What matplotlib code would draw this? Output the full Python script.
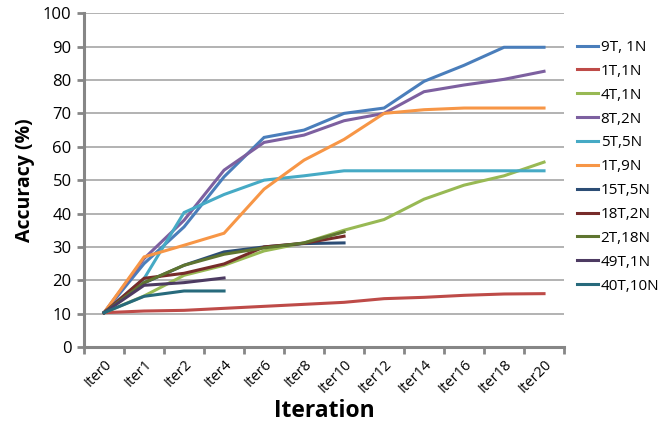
import numpy as np
import matplotlib
matplotlib.use('Agg')
import matplotlib.pyplot as plt

plt.rcParams['font.family'] = ['Open Sans', 'DejaVu Sans']

# Datos
iteraciones = ['Iter0', 'Iter1', 'Iter2', 'Iter4', 'Iter6', 'Iter8',
               'Iter10', 'Iter12', 'Iter14', 'Iter16', 'Iter18', 'Iter20']

s_9T_1N = [10.3, 25, 36, 51, 62.8, 65, 70, 71.6, 79.6, 84.4, 89.8, 89.8]
s_1T_1N = [10.3, 10.8, 11, 11.6, 12.2, 12.8, 13.4, 14.5, 14.9, 15.5, 15.9, 16]
s_4T_1N = [10.3, 15.3, 21.5, 24.5, 28.8, 31.2, 35, 38.2, 44.3, 48.5, 51.3, 55.4]
s_8T_2N = [10.3, 26.5, 38, 53, 61.3, 63.5, 67.8, 70, 76.5, 78.5, 80.2, 82.6]
s_5T_5N = [10.3, 20.5, 40.3, 45.7, 50, 51.3, 52.8, 52.8, 52.8, 52.8, 52.8, 52.8]
s_1T_9N = [10.3, 27, 30.5, 34.1, 47.3, 56, 62.2, 70, 71.1, 71.6, 71.6, 71.6]
s_15T_5N = [10.3, 19.2, 24.5, 28.5, 30, 31, 31.2]
s_18T_2N = [10.3, 20.6, 22.1, 24.9, 30, 31.1, 33.2]
s_2T_18N = [10.3, 19.3, 24.5, 27.8, 29.7, 31.2, 34.5]
s_49T_1N = [10.3, 18.5, 19.3, 20.7]
s_40T_10N = [10.3, 15.2, 16.8, 16.8]

series = [
    ('9T, 1N', s_9T_1N, '#4A7EBB'),
    ('1T,1N', s_1T_1N, '#BE4B48'),
    ('4T,1N', s_4T_1N, '#98B954'),
    ('8T,2N', s_8T_2N, '#7D60A0'),
    ('5T,5N', s_5T_5N, '#46AAC5'),
    ('1T,9N', s_1T_9N, '#F79646'),
    ('15T,5N', s_15T_5N, '#2C4D75'),
    ('18T,2N', s_18T_2N, '#772C2A'),
    ('2T,18N', s_2T_18N, '#5F7530'),
    ('49T,1N', s_49T_1N, '#4D3B62'),
    ('40T,10N', s_40T_10N, '#276A7C'),
]

fig = plt.figure(figsize=(6.62, 4.41), dpi=100)
ax = fig.add_axes([0.127, 0.213, 0.725, 0.757])

for nombre, valores, color in series:
    ax.plot(np.arange(len(valores)), valores, color=color, lw=2.2,
            label=nombre, solid_joinstyle='miter')

gris = '#868686'
ax.set_ylim(0, 100)
ax.set_xlim(-0.5, len(iteraciones) - 0.5)
ax.set_yticks(np.arange(0, 101, 10))
ax.yaxis.grid(True, color='#A6A6A6', lw=1.2)
ax.set_axisbelow(True)

ax.set_xticks(np.arange(-0.5, len(iteraciones), 1))
ax.set_xticklabels([])
ax.set_xticks(np.arange(len(iteraciones)), minor=True)
ax.set_xticklabels(iteraciones, minor=True, rotation=45, ha='right',
                   rotation_mode='anchor', fontsize=10.5)
ax.tick_params(axis='x', which='minor', length=0, pad=7)
ax.tick_params(axis='x', which='major', length=5, width=2, color=gris)
ax.tick_params(axis='y', length=5, width=2, color=gris, labelsize=12, pad=4)

for lado in ['top', 'right']:
    ax.spines[lado].set_visible(False)
for lado in ['left', 'bottom']:
    ax.spines[lado].set_color(gris)
    ax.spines[lado].set_linewidth(2.2)

ax.set_ylabel('Accuracy (%)', fontsize=14, fontweight='bold', labelpad=6)
ax.set_xlabel('Iteration', fontsize=16.5, fontweight='bold', labelpad=2)

ax.legend(loc='upper left', bbox_to_anchor=(1.027, 0.92), frameon=False,
          fontsize=11, handlelength=1.4, handletextpad=0.15,
          labelspacing=0.58, borderaxespad=0, borderpad=0)

fig.savefig('out.png', dpi=100)
